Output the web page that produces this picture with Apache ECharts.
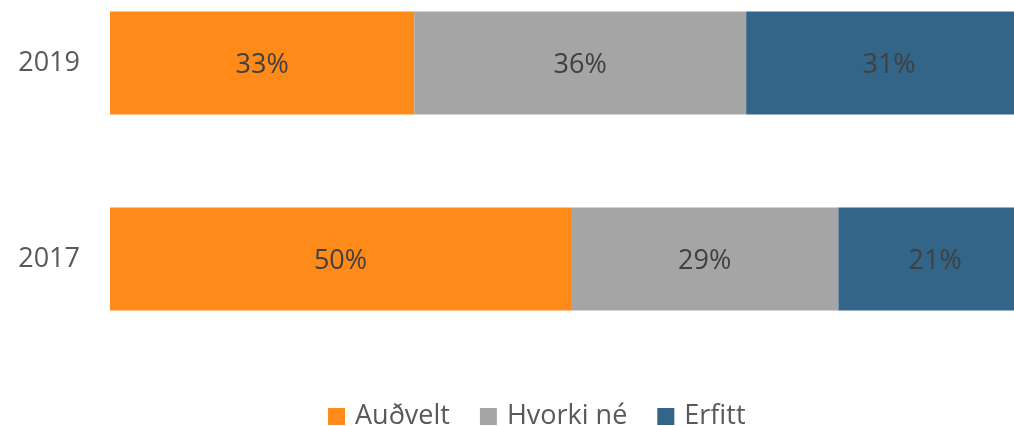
<!DOCTYPE html>
<html><head><meta charset="utf-8">
<script src="https://cdn.jsdelivr.net/npm/echarts@6/dist/echarts.min.js"></script>
<style>html,body{margin:0;padding:0;background:#fff}#c{width:1014px;height:426px}</style>
</head><body><div id="c"></div>
<script>
const categories = ['2017', '2019'];
const seriesNames = ['Auðvelt', 'Hvorki né', 'Erfitt'];
const audvelt = [50, 33];
const hvorki = [29, 36];
const erfitt = [21, 31];
const colors = ['#FE8A19', '#A5A5A5', '#336589'];
const values = [audvelt, hvorki, erfitt];
const font = 'Open Sans';
const chart = echarts.init(document.getElementById('c'));
chart.setOption({
  animation: false,
  textStyle: { fontFamily: font },
  grid: { left: 110, width: 922, top: -35, height: 392, containLabel: false, outerBoundsMode: 'none' },
  xAxis: { type: 'value', min: 0, max: 100, show: false },
  yAxis: {
    type: 'category', data: categories,
    axisLine: { show: false }, axisTick: { show: false },
    axisLabel: { color: '#595959', fontSize: 27, fontFamily: font, margin: 30 }
  },
  legend: {
    left: 323, top: 398, itemWidth: 17, itemHeight: 17, itemGap: 30,
    icon: 'rect',
    textStyle: { color: '#595959', fontSize: 27, fontFamily: font, padding: [0, 0, 0, 5] },
    data: seriesNames
  },
  series: seriesNames.map((n, i) => ({
    name: n, type: 'bar', stack: 'total', barWidth: '52.5%', clip: false,
    data: values[i],
    itemStyle: { color: colors[i] },
    label: { show: true, position: 'inside', offset: [0, 2], formatter: '{c}%', color: '#404040', fontSize: 27, fontFamily: font }
  }))
});
</script></body></html>
